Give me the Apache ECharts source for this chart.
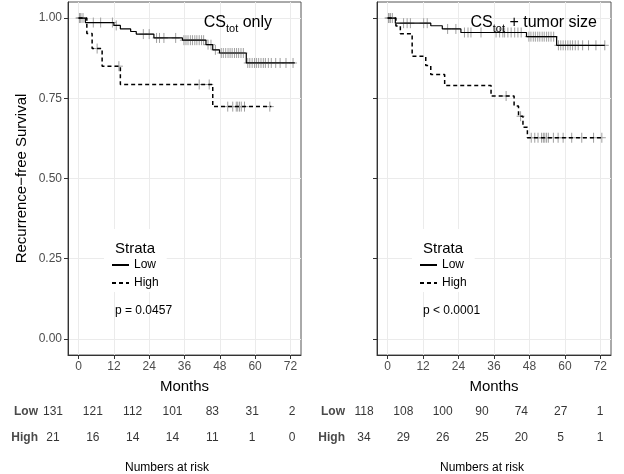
<!DOCTYPE html>
<html>
<head>
<meta charset="utf-8">
<script src="https://cdn.jsdelivr.net/npm/echarts@6/dist/echarts.min.js"></script>
<style>
  html, body { margin: 0; padding: 0; background: #fff; }
  #chart { width: 624px; height: 474px; }
</style>
</head>
<body>
<div id="chart"></div>
<script>
// x ticks / risk table columns
const months = [0, 12, 24, 36, 48, 60, 72];
const survTicks = [0, 0.25, 0.5, 0.75, 1];

// left panel: CS_tot only
const lowTimes1 = [0, 2.3, 12.0, 14.2, 17.7, 19.6, 25.6, 35.3, 43.3, 45.6, 47.9, 57.0, 73.5];
const lowSurv1 = [1, 0.986, 0.977, 0.966, 0.958, 0.950, 0.938, 0.931, 0.917, 0.901, 0.891, 0.860, 0.860];
const highTimes1 = [0, 2.8, 4.6, 8.0, 14.2, 45.6, 65.5];
const highSurv1 = [1, 0.952, 0.905, 0.850, 0.793, 0.724, 0.724];
const lowCens1 = [0.3, 0.8, 1.5, 5.0, 7.5, 11.5, 12.8, 22, 24, 26.5, 27.5, 29, 33, 35.8, 36.5, 37.2, 38, 38.7,
  39.5, 40.2, 41, 41.8, 42.5, 44, 45, 46.5, 48.5, 49.2, 50, 50.8, 51.5, 52.2, 53, 53.7, 54.4, 55.2, 56,
  57.5, 58.2, 59, 59.8, 60.5, 61.2, 62, 62.8, 63.5, 64.5, 65.5, 67, 68.5, 70.5, 72.9];
const highCens1 = [0.5, 6.3, 13.7, 41, 44.4, 50.7, 52.4, 53.6, 54.1, 54.7, 55.3, 56.4, 65.0];

// right panel: CS_tot + tumor size
const lowTimes2 = [0, 2.6, 14.6, 18.5, 24.8, 47.0, 57.2, 73.5];
const lowSurv2 = [1, 0.984, 0.976, 0.966, 0.955, 0.942, 0.915, 0.915];
const highTimes2 = [0, 2.8, 4.3, 8.3, 12.9, 14.6, 19.3, 35.0, 42.8, 44.3, 45.8, 47.3, 73.0];
const highSurv2 = [1, 0.975, 0.951, 0.881, 0.852, 0.824, 0.790, 0.757, 0.726, 0.694, 0.660, 0.627, 0.627];
const lowCens2 = [0.3, 1.0, 1.6, 5.4, 6.6, 7.7, 12.2, 13.4, 20.3, 23.1, 26, 27.2, 28.2, 31.6, 36.7, 37.9, 39,
  39.6, 40.7, 41.8, 43, 44.1, 45.2, 47.8, 48.5, 49.3, 50, 50.8, 51.5, 52.3, 53, 53.8, 54.5, 55.3, 56.2,
  57.8, 58.6, 59.4, 60.2, 61, 61.8, 62.6, 63.5, 64.5, 66, 68, 70.5, 73.5];
const highCens2 = [0.5, 40.1, 45.0, 48.6, 49.8, 50.9, 52.1, 52.7, 53.2, 53.8, 54.4, 56.1, 57.7, 59.4,
  62.3, 65.7, 69.7, 72.5];

// numbers at risk
const riskLow1 = [131, 121, 112, 101, 83, 31, 2];
const riskHigh1 = [21, 16, 14, 14, 11, 1, 0];
const riskLow2 = [118, 108, 100, 90, 74, 27, 1];
const riskHigh2 = [34, 29, 26, 25, 20, 5, 1];

const FONT = 'Liberation Sans, Arial, Helvetica, sans-serif';

const zip = (xs, ys) => xs.map((x, i) => [x, ys[i]]);

// value of the step curve at time t
const survAt = (ts, ss, t) => {
  let v = ss[0];
  for (let i = 0; i < ts.length; i++) {
    if (ts[i] <= t) v = ss[i];
  }
  return v;
};

const censorItem = (params, api) => {
  const p = api.coord([api.value(0), api.value(1)]);
  const style = { stroke: '#a0a0a0', lineWidth: 1 };
  return {
    type: 'group',
    children: [
      { type: 'line', shape: { x1: p[0], y1: p[1] - 5, x2: p[0], y2: p[1] + 5 }, style },
      { type: 'line', shape: { x1: p[0] - 4, y1: p[1], x2: p[0] + 4, y2: p[1] }, style }
    ]
  };
};

const curve = (name, ts, ss, idx, dashed) => ({
  type: 'line',
  name,
  xAxisIndex: idx,
  yAxisIndex: idx,
  data: zip(ts, ss),
  step: 'end',
  symbol: 'none',
  silent: true,
  lineStyle: { color: '#000', width: dashed ? 1.5 : 1.2, type: dashed ? [4, 3] : 'solid' },
  itemStyle: { color: '#000' }
});

const censors = (ts, ss, cens, idx) => ({
  type: 'custom',
  coordinateSystem: 'cartesian2d',
  xAxisIndex: idx,
  yAxisIndex: idx,
  renderItem: censorItem,
  encode: { x: 0, y: 1 },
  silent: true,
  z: 3,
  data: cens.map(t => [t, survAt(ts, ss, t)])
});

const riskSeries = (idx, low, high) => ({
  type: 'scatter',
  xAxisIndex: idx,
  yAxisIndex: idx,
  symbolSize: 1,
  silent: true,
  itemStyle: { color: 'transparent' },
  label: {
    show: true,
    position: 'inside',
    formatter: p => String(p.value[2]),
    color: '#000',
    fontSize: 12,
    fontFamily: FONT
  },
  data: months.map((m, i) => [m, 'Low', low[i]]).concat(months.map((m, i) => [m, 'High', high[i]]))
});

const plotX = (gi) => ({
  type: 'value',
  gridIndex: gi,
  min: -3.6,
  max: 75.6,
  name: 'Months',
  nameLocation: 'middle',
  nameGap: 24,
  nameTextStyle: { fontSize: 15, color: '#000', fontFamily: FONT },
  axisLine: { show: true, onZero: false, lineStyle: { color: '#333', width: 1 } },
  axisTick: { show: true, length: 4, customValues: months, lineStyle: { color: '#333' } },
  axisLabel: { customValues: months, color: '#4d4d4d', fontSize: 12, margin: 6, fontFamily: FONT },
  splitLine: { show: true, lineStyle: { color: '#ebebeb', width: 1 } }
});

const plotY = (gi, showLabels) => ({
  type: 'value',
  gridIndex: gi,
  min: -0.05,
  max: 1.05,
  name: showLabels ? 'Recurrence\u2212free Survival' : '',
  nameLocation: 'middle',
  nameGap: 39,
  nameTextStyle: { fontSize: 15, color: '#000', fontFamily: FONT },
  axisLine: { show: true, onZero: false, lineStyle: { color: '#333', width: 1 } },
  axisTick: { show: true, length: 4, customValues: survTicks, lineStyle: { color: '#333' } },
  axisLabel: {
    show: showLabels, customValues: survTicks, color: '#4d4d4d', fontSize: 12, margin: 6,
    fontFamily: FONT, formatter: v => v.toFixed(2)
  },
  splitLine: { show: true, lineStyle: { color: '#ebebeb', width: 1 } }
});

const tableX = (gi, offset) => ({
  type: 'value',
  gridIndex: gi,
  min: 0,
  max: 72,
  name: 'Numbers at risk',
  nameLocation: 'middle',
  nameGap: 11,
  nameTextStyle: { fontSize: 12, color: '#000', fontFamily: FONT, padding: [0, offset, 0, 0] },
  axisLine: { show: false },
  axisTick: { show: false },
  axisLabel: { show: false },
  splitLine: { show: false }
});

const tableY = (gi, margin) => ({
  type: 'category',
  gridIndex: gi,
  data: ['Low', 'High'],
  inverse: true,
  axisLine: { show: false },
  axisTick: { show: false },
  splitLine: { show: false },
  axisLabel: { color: '#4a4a4a', fontSize: 12, fontWeight: 'bold', margin, fontFamily: FONT }
});

const titleRich = {
  n: { fontSize: 16, fontWeight: 'normal', color: '#000', fontFamily: FONT, lineHeight: 20, verticalAlign: 'bottom' },
  s: { fontSize: 11, fontWeight: 'normal', color: '#000', fontFamily: FONT, lineHeight: 20, verticalAlign: 'bottom', padding: [0, 0, -3, 0] }
};

const legendBox = (left) => ({
  orient: 'vertical',
  left,
  top: 229,
  data: ['Low', 'High'],
  padding: [30, 8, 3, 7],
  backgroundColor: '#fff',
  itemWidth: 17,
  itemHeight: 14,
  itemGap: 6,
  selectedMode: false,
  z: 4,
  itemStyle: { color: 'transparent', borderWidth: 0, opacity: 0 },
  textStyle: { fontSize: 12, color: '#000', fontFamily: FONT }
});

const plainTitle = (text, left, top, size) => ({
  text, left, top, z: 6,
  textStyle: { fontSize: size, fontWeight: 'normal', color: '#000', fontFamily: FONT }
});

const chart = echarts.init(document.getElementById('chart'), null, { renderer: 'canvas' });

chart.setOption({
  animation: false,
  backgroundColor: '#fff',
  textStyle: { fontFamily: FONT },
  grid: [
    { left: 68, top: 2, width: 233, height: 353, show: true, borderColor: '#555', borderWidth: 1, backgroundColor: 'transparent', outerBoundsMode: 'none' },
    { left: 377, top: 2, width: 234, height: 353, show: true, borderColor: '#555', borderWidth: 1, backgroundColor: 'transparent', outerBoundsMode: 'none' },
    { left: 53, top: 399, width: 239, height: 52, outerBoundsMode: 'none' },
    { left: 364, top: 399, width: 236, height: 52, outerBoundsMode: 'none' }
  ],
  xAxis: [plotX(0), plotX(1), tableX(2, 11), tableX(3, 0)],
  yAxis: [plotY(0, true), plotY(1, false), tableY(2, 15), tableY(3, 19)],
  title: [
    { text: '{n|CS}{s|tot}{n| only}', right: 347, top: 6, textStyle: { fontWeight: 'normal', rich: titleRich }, z: 6 },
    { text: '{n|CS}{s|tot}{n| + tumor size}', right: 22, top: 6, textStyle: { fontWeight: 'normal', rich: titleRich }, z: 6 },
    plainTitle('Strata', 110, 236, 15),
    plainTitle('Strata', 418, 236, 15),
    plainTitle('p = 0.0457', 110, 300, 12),
    plainTitle('p < 0.0001', 418, 300, 12)
  ],
  legend: [legendBox(104), legendBox(412)],
  series: [
    curve('Low', lowTimes1, lowSurv1, 0, false),
    curve('High', highTimes1, highSurv1, 0, true),
    censors(lowTimes1, lowSurv1, lowCens1, 0),
    censors(highTimes1, highSurv1, highCens1, 0),
    curve('Low', lowTimes2, lowSurv2, 1, false),
    curve('High', highTimes2, highSurv2, 1, true),
    censors(lowTimes2, lowSurv2, lowCens2, 1),
    censors(highTimes2, highSurv2, highCens2, 1),
    riskSeries(2, riskLow1, riskHigh1),
    riskSeries(3, riskLow2, riskHigh2)
  ]
});
</script>
</body>
</html>
